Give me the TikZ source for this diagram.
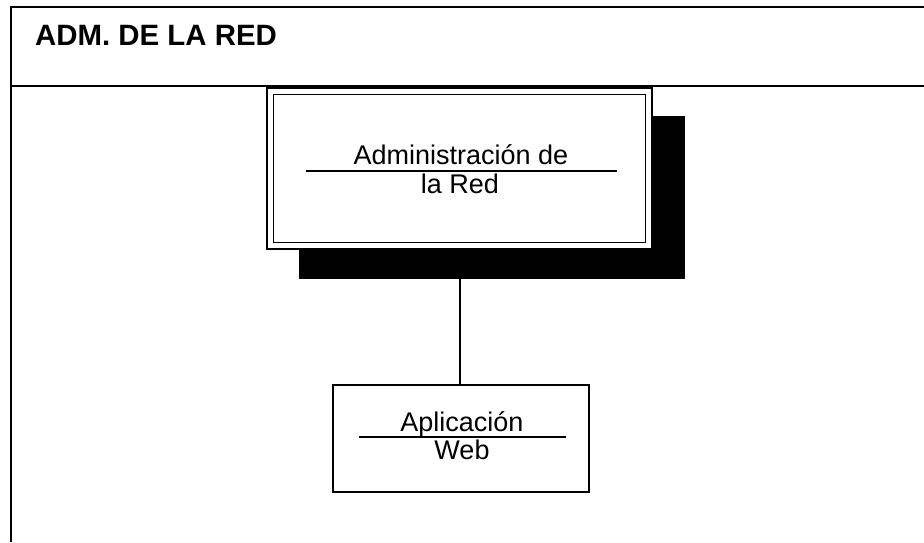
\documentclass[tikz,border=0pt]{standalone}
\usepackage{fontspec}
\setmainfont{Liberation Sans}
\begin{document}
\begin{tikzpicture}[x=1pt,y=-1pt,
  frameline/.style={line width=1.8pt,black},
  boxline/.style={line width=2pt,black},
  lbl/.style={font=\fontsize{27}{29}\selectfont,inner sep=0pt,anchor=base},
  titlefont/.style={font=\fontsize{29.4}{32}\selectfont\bfseries,inner sep=0pt,anchor=base west}]
\useasboundingbox (0,0) rectangle (924,542);
% frame
\coordinate (ftl) at (11,7);
\coordinate (ftr) at (924,7);
\coordinate (fbl) at (11,542);
\coordinate (hl) at (11,86);
\coordinate (hr) at (924,86);
\draw[frameline] (ftr) -- (ftl) -- (fbl);
\draw[frameline] (hl) -- (hr);
\node[titlefont] (title) at (35,45) {ADM. DE LA RED};
% connector end
\coordinate (cbot) at (460,386);
% shadow
\fill[black] (299,116) rectangle (685,279);
% big box
\node[draw,boxline,fill=white,minimum width=385pt,minimum height=161pt,inner sep=0pt] (adm) at (459.5,168.5) {};
\node[draw,line width=1.6pt,minimum width=372pt,minimum height=148pt,inner sep=0pt] (admin) at (459.5,168.5) {};
\node[lbl] (a1) at (461,164) {Administración de};
\node[lbl] (a2) at (460,193) {la Red};
\coordinate (u1l) at (306,171);
\coordinate (u1r) at (617,171);
\draw[line width=1.8pt] (u1l) -- (u1r);
% small box
\node[draw,boxline,fill=white,minimum width=256pt,minimum height=107pt,inner sep=0pt] (web) at (461,438.5) {};
\draw[line width=2pt] (web.north -| cbot) -- ++(0,-107);
\node[lbl] (w1) at (462,431) {Aplicación};
\node[lbl] (w2) at (462,459) {Web};
\coordinate (u2l) at (359,437);
\coordinate (u2r) at (566,437);
\draw[line width=1.8pt] (u2l) -- (u2r);
\end{tikzpicture}
\end{document}
